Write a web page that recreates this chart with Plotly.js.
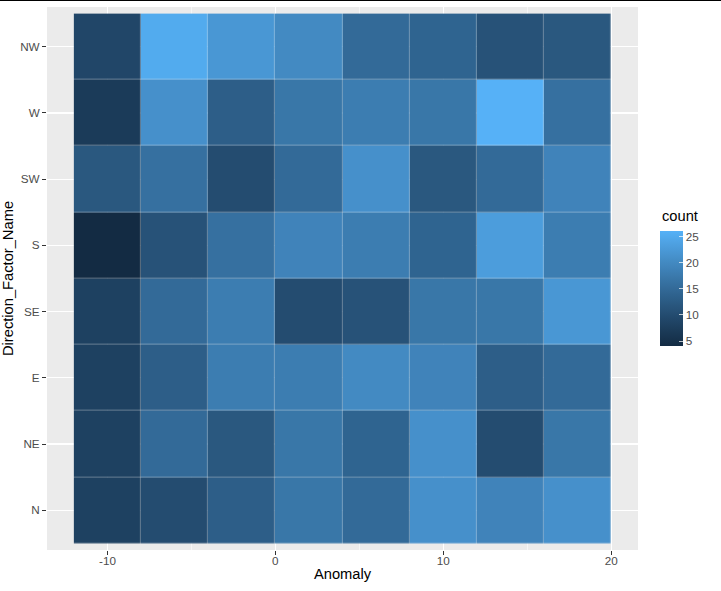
<!DOCTYPE html>
<html>
<head>
<meta charset="utf-8">
<script src="https://cdn.plot.ly/plotly-3.0.1.min.js"></script>
<style>
  html, body { margin: 0; padding: 0; background: #ffffff; }
  #topline { position: absolute; left: 0; top: 0; width: 721px; height: 1px; background: #000; z-index: 10; }
  #chart { width: 721px; height: 591px; }
</style>
</head>
<body>
<div id="topline"></div>
<div id="chart"></div>
<script>
// ---- data ----
const anomalyCenters = [-10, -6, -2, 2, 6, 10, 14, 18];
const directions = ["N", "NE", "E", "SE", "S", "SW", "W", "NW"];
const countN  = [8, 10, 13, 17, 15, 21, 19, 21];
const countNE = [8, 15, 12, 17, 14, 21, 10, 17];
const countE  = [8, 13, 18, 18, 20, 19, 13, 15];
const countSE = [8, 15, 18, 10, 11, 17, 17, 22];
const countS  = [4, 11, 16, 19, 18, 14, 23, 18];
const countSW = [12, 16, 10, 15, 21, 12, 15, 19];
const countW  = [7, 21, 13, 17, 18, 17, 26, 16];
const countNW = [9, 25, 22, 20, 15, 14, 11, 12];
const colorbarTicks = [5, 10, 15, 20, 25];
const xTicks = [-10, 0, 10, 20];

const zRows = [countN, countNE, countE, countSE, countS, countSW, countW, countNW];

// ---- ggplot2 default gradient (#132B43 -> #56B1F7, interpolated in Lab) ----
function hexToRgb(h){ h=h.replace('#',''); return [0,2,4].map(i=>parseInt(h.substr(i,2),16)); }
function s2l(c){ c/=255; return c<=0.04045? c/12.92 : Math.pow((c+0.055)/1.055,2.4); }
function l2s(c){ c = c<=0.0031308? 12.92*c : 1.055*Math.pow(c,1/2.4)-0.055; return Math.max(0,Math.min(255,Math.round(c*255))); }
const WX=0.95047, WY=1.0, WZ=1.08883;
function rgbToLab(rgb){
  const [r,g,b]=rgb.map(s2l);
  const X=(0.4124*r+0.3576*g+0.1805*b)/WX, Y=(0.2126*r+0.7152*g+0.0722*b)/WY, Z=(0.0193*r+0.1192*g+0.9505*b)/WZ;
  const f=t=> t>0.008856? Math.cbrt(t) : (7.787*t+16/116);
  const fx=f(X), fy=f(Y), fz=f(Z);
  return [116*fy-16, 500*(fx-fy), 200*(fy-fz)];
}
function labToRgb(lab){
  const [L,a,b]=lab; const fy=(L+16)/116, fx=fy+a/500, fz=fy-b/200;
  const fi=t=> t*t*t>0.008856? t*t*t : (t-16/116)/7.787;
  const X=fi(fx)*WX, Y=fi(fy)*WY, Z=fi(fz)*WZ;
  const r= 3.2406*X-1.5372*Y-0.4986*Z, g=-0.9689*X+1.8758*Y+0.0415*Z, bb=0.0557*X-0.2040*Y+1.0570*Z;
  return [l2s(r),l2s(g),l2s(bb)];
}
const lowLab=rgbToLab(hexToRgb('#132B43')), highLab=rgbToLab(hexToRgb('#56B1F7'));
const colorscale=[];
for(let i=0;i<=20;i++){
  const t=i/20;
  const lab=lowLab.map((v,k)=>v+(highLab[k]-v)*t);
  const c=labToRgb(lab);
  colorscale.push([t,`rgb(${c[0]},${c[1]},${c[2]})`]);
}

const allVals = zRows.flat();
const zmin = Math.min(...allVals), zmax = Math.max(...allVals);

const FONT = "Liberation Sans, Arial, sans-serif";

const trace = {
  type: 'heatmap',
  x: anomalyCenters,
  y: directions,
  z: zRows,
  zmin: zmin, zmax: zmax,
  colorscale: colorscale,
  xgap: 0.35, ygap: 0.35,
  hoverinfo: 'skip',
  colorbar: {
    thickness: 23,
    thicknessmode: 'pixels',
    len: 115,
    lenmode: 'pixels',
    x: 1.037, xanchor: 'left', xref: 'paper',
    y: 0.481, yanchor: 'middle',
    outlinewidth: 0,
    tickvals: colorbarTicks,
    ticktext: colorbarTicks.map(String),
    ticks: 'inside',
    ticklen: 4,
    tickcolor: 'rgba(255,255,255,0.7)',
    tickwidth: 1,
    tickfont: {family: FONT, size: 11.7, color: '#4D4D4D'},
    xpad: 0, ypad: 0
  }
};

const layout = {
  width: 721, height: 591,
  margin: {l: 47, r: 83, t: 7, b: 41, pad: 0},
  paper_bgcolor: '#ffffff',
  plot_bgcolor: '#EBEBEB',
  font: {family: FONT, color: '#4D4D4D'},
  showlegend: false,
  xaxis: {
    range: [-13.6, 21.6],
    tickvals: xTicks,
    ticktext: xTicks.map(String),
    ticks: 'outside', ticklen: 4, tickcolor: '#333333', tickwidth: 1,
    tickfont: {family: FONT, size: 11.7, color: '#4D4D4D'},
    ticklabelstandoff: -4,
    showgrid: true, gridcolor: '#FFFFFF', gridwidth: 1.1,
    minor: {dtick: 5, tick0: 0, showgrid: true, gridcolor: '#FFFFFF', gridwidth: 0.55, ticks: ''},
    zeroline: false, showline: false,
    automargin: false,
    title: {text: 'Anomaly', font: {family: FONT, size: 14.7, color: '#000'}, standoff: 2}
  },
  yaxis: {
    type: 'category',
    categoryorder: 'array', categoryarray: directions,
    range: [-0.6, 7.6],
    ticks: 'outside', ticklen: 4, tickcolor: '#333333', tickwidth: 1,
    tickfont: {family: FONT, size: 11.7, color: '#4D4D4D'},
    showgrid: true, gridcolor: '#FFFFFF', gridwidth: 1.1,
    zeroline: false, showline: false,
    automargin: false,
    title: {text: 'Direction_Factor_Name', font: {family: FONT, size: 14.7, color: '#000'}, standoff: 4}
  },
  annotations: [{
    text: 'count', xref: 'paper', yref: 'paper',
    x: 1.0372, y: 0.615, xanchor: 'left', yanchor: 'middle',
    showarrow: false, font: {family: FONT, size: 14.7, color: '#000'}
  }]
};

Plotly.newPlot('chart', [trace], layout, {staticPlot: true, displayModeBar: false});
</script>
</body>
</html>
